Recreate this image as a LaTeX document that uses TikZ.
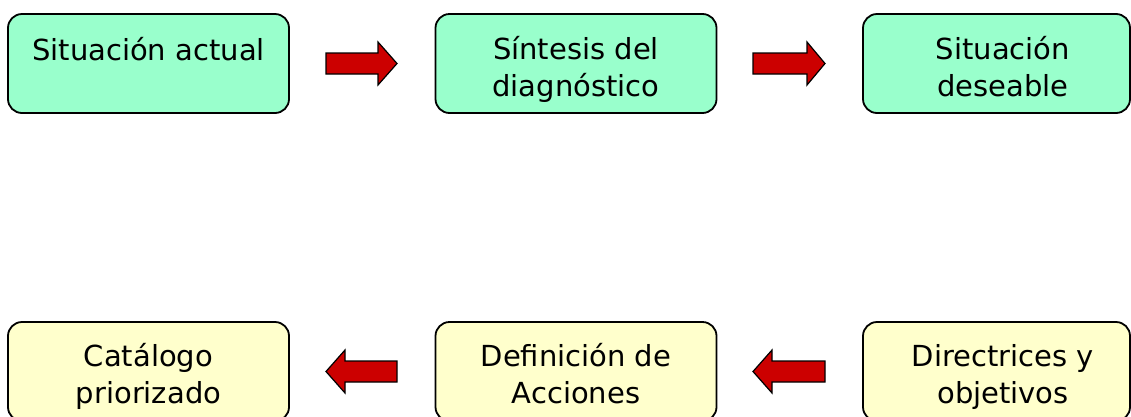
\documentclass[tikz,border=0pt]{standalone}
\usepackage{fontspec}
\setmainfont{DejaVu Sans}
\definecolor{mint}{HTML}{99FFCC}
\definecolor{cream}{HTML}{FFFFCC}
\definecolor{arrowred}{HTML}{CC0000}
\begin{document}
\begin{tikzpicture}[x=1pt,y=-1pt,
  box/.style={draw=black, line width=1.8pt, rounded corners=14pt, minimum width=281pt, minimum height=99pt, inner sep=0pt},
  topbox/.style={box, fill=mint},
  botbox/.style={box, fill=cream},
  lbl/.style={font=\fontsize{29}{37}\selectfont, align=center, anchor=base, inner sep=0pt},
  blockarrow/.style={draw=black, line width=1.2pt, fill=arrowred, line join=miter}]
\useasboundingbox (0,0) rectangle (1131,416);
% top row
\node[topbox] (b1) at (148.5,63.5) {};
\node[topbox] (b2) at (576,63.5) {};
\node[topbox, minimum width=267pt] (b3) at (996.5,63.5) {};
\node[lbl] (t1) at (148.5,60) {Situación actual};
\node[lbl] (t2) at (576,96) {Síntesis del\\diagnóstico};
\node[lbl] (t3) at (1003,96) {Situación\\deseable};
% bottom row
\node[botbox] (b4) at (148.5,371.5) {};
\node[botbox] (b5) at (576,371.5) {};
\node[botbox, minimum width=267pt] (b6) at (996.5,371.5) {};
\node[lbl] (t4) at (148.5,403) {Catálogo\\priorizado};
\node[lbl] (t5) at (576,403) {Definición de\\Acciones};
\node[lbl] (t6) at (1003,403) {Directrices y\\objetivos};
% block arrows
\draw[blockarrow] (326,53) -- (378,53) -- (378,42) -- (397,63.5) -- (378,85) -- (378,74) -- (326,74) -- cycle;
\draw[blockarrow] (753,53) -- (807,53) -- (807,42) -- (825,63.5) -- (807,85) -- (807,74) -- (753,74) -- cycle;
\draw[blockarrow] (397,361) -- (345,361) -- (345,350) -- (326,371.5) -- (345,393) -- (345,382) -- (397,382) -- cycle;
\draw[blockarrow] (825,361) -- (772,361) -- (772,350) -- (753,371.5) -- (772,393) -- (772,382) -- (825,382) -- cycle;
\end{tikzpicture}
\end{document}
